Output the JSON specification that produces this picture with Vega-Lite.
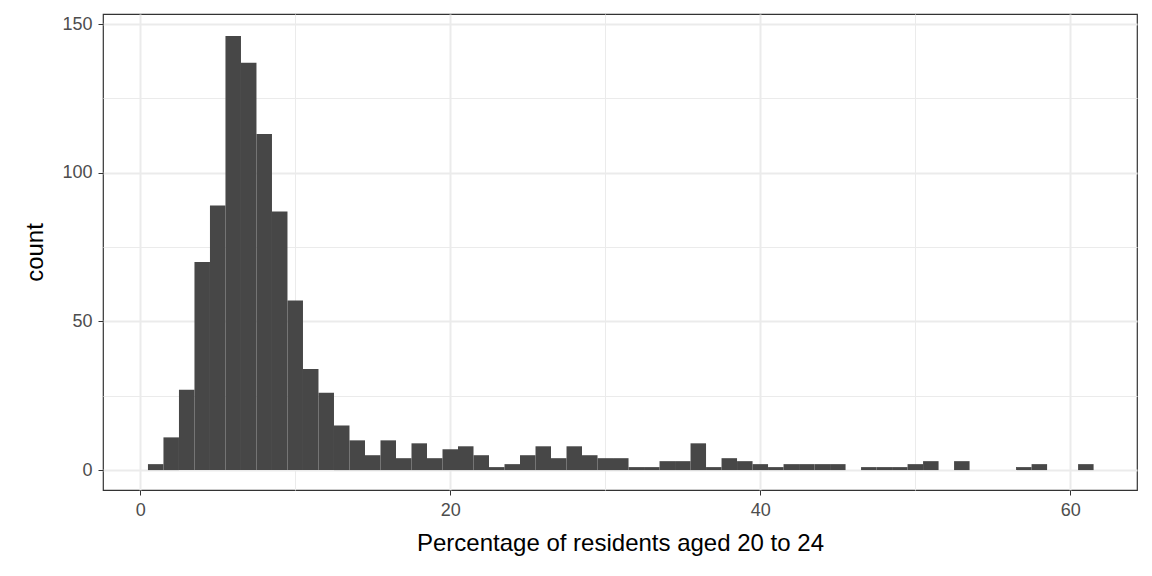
{
  "$schema": "https://vega.github.io/schema/vega-lite/v6.json",
  "width": 1034,
  "height": 476,
  "autosize": "none",
  "padding": {"left": 103, "top": 14, "right": 15, "bottom": 86},
  "background": "white",
  "config": {
    "font": "Liberation Sans",
    "view": {"stroke": "#333333", "strokeWidth": 1.2},
    "axis": {"gridColor": "#ebebeb", "domain": false, "tickColor": "#333333", "labelColor": "#4d4d4d", "labelFontSize": 18, "titleFontSize": 24, "titleFontWeight": "normal", "titleColor": "black", "labelPadding": 6}
  },
  "data": {
    "values": [
      {"s": 0.5, "n": 2}, {"s": 1.5, "n": 11}, {"s": 2.5, "n": 27}, {"s": 3.5, "n": 70},
      {"s": 4.5, "n": 89}, {"s": 5.5, "n": 146}, {"s": 6.5, "n": 137}, {"s": 7.5, "n": 113},
      {"s": 8.5, "n": 87}, {"s": 9.5, "n": 57}, {"s": 10.5, "n": 34}, {"s": 11.5, "n": 26},
      {"s": 12.5, "n": 15}, {"s": 13.5, "n": 10}, {"s": 14.5, "n": 5}, {"s": 15.5, "n": 10},
      {"s": 16.5, "n": 4}, {"s": 17.5, "n": 9}, {"s": 18.5, "n": 4}, {"s": 19.5, "n": 7},
      {"s": 20.5, "n": 8}, {"s": 21.5, "n": 5}, {"s": 22.5, "n": 1}, {"s": 23.5, "n": 2},
      {"s": 24.5, "n": 5}, {"s": 25.5, "n": 8}, {"s": 26.5, "n": 4}, {"s": 27.5, "n": 8},
      {"s": 28.5, "n": 5}, {"s": 29.5, "n": 4}, {"s": 30.5, "n": 4}, {"s": 31.5, "n": 1},
      {"s": 32.5, "n": 1}, {"s": 33.5, "n": 3}, {"s": 34.5, "n": 3}, {"s": 35.5, "n": 9},
      {"s": 36.5, "n": 1}, {"s": 37.5, "n": 4}, {"s": 38.5, "n": 3}, {"s": 39.5, "n": 2},
      {"s": 40.5, "n": 1}, {"s": 41.5, "n": 2}, {"s": 42.5, "n": 2}, {"s": 43.5, "n": 2},
      {"s": 44.5, "n": 2}, {"s": 46.5, "n": 1}, {"s": 47.5, "n": 1}, {"s": 48.5, "n": 1},
      {"s": 49.5, "n": 2}, {"s": 50.5, "n": 3}, {"s": 52.5, "n": 3}, {"s": 56.5, "n": 1},
      {"s": 57.5, "n": 2}, {"s": 60.5, "n": 2}
    ]
  },
  "transform": [{"calculate": "datum.s + 1", "as": "e"}],
  "mark": {"type": "bar", "fill": "#474747"},
  "encoding": {
    "x": {
      "field": "s", "type": "quantitative",
      "title": "Percentage of residents aged 20 to 24",
      "scale": {"domain": [-2.4, 64.3], "nice": false, "zero": false},
      "axis": {
        "values": [0, 10, 20, 30, 40, 50, 60],
        "titlePadding": 12,
        "labelExpr": "datum.value % 20 == 0 ? datum.label : ''",
        "tickSize": {"condition": {"test": "datum.value % 20 == 0", "value": 5}, "value": 0},
        "gridWidth": {"condition": {"test": "datum.value % 20 == 0", "value": 2}, "value": 1}
      }
    },
    "x2": {"field": "e"},
    "y": {
      "field": "n", "type": "quantitative", "title": "count",
      "scale": {"domain": [-6.7, 153.4], "nice": false, "zero": false},
      "axis": {
        "values": [0, 25, 50, 75, 100, 125, 150],
        "titlePadding": 14,
        "labelExpr": "datum.value % 50 == 0 ? datum.label : ''",
        "tickSize": {"condition": {"test": "datum.value % 50 == 0", "value": 5}, "value": 0},
        "gridWidth": {"condition": {"test": "datum.value % 50 == 0", "value": 2}, "value": 1}
      }
    },
    "y2": {"datum": 0}
  }
}
